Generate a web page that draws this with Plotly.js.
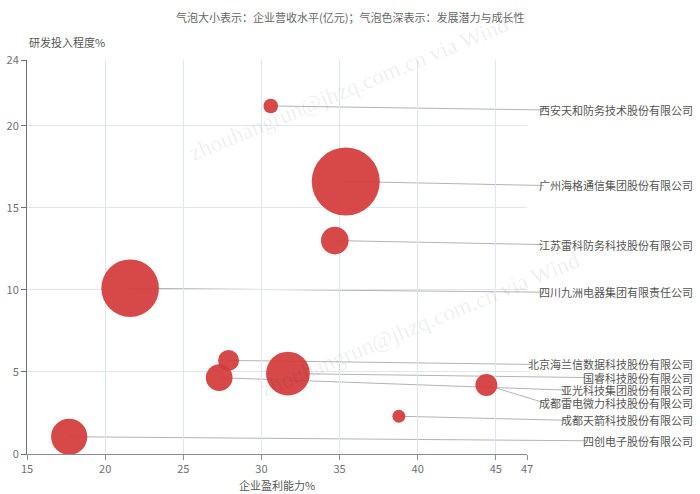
<!DOCTYPE html>
<html>
<head>
<meta charset="utf-8">
<script src="https://cdn.plot.ly/plotly-3.0.1.min.js"></script>
<style>html,body{margin:0;padding:0;background:#fff;}#chart{width:700px;height:494px;}</style>
</head>
<body>
<div id="chart"></div>
<script>
// ---- data ----
const companies = [
  "西安天和防务技术股份有限公司",
  "广州海格通信集团股份有限公司",
  "江苏雷科防务科技股份有限公司",
  "四川九洲电器集团有限责任公司",
  "北京海兰信数据科技股份有限公司",
  "国睿科技股份有限公司",
  "亚光科技集团股份有限公司",
  "成都雷电微力科技股份有限公司",
  "成都天箭科技股份有限公司",
  "四创电子股份有限公司"
];
const profitability = [30.6, 35.4, 34.7, 21.6, 27.9, 31.7, 27.3, 44.4, 38.8, 17.7]; // 企业盈利能力%
const rdIntensity   = [21.2, 16.6, 13.0, 10.1, 5.7, 4.9, 4.65, 4.2, 2.3, 1.05];   // 研发投入程度%
const revenue       = [12.2, 56.7, 23.0, 48.0, 17.5, 36.5, 22.3, 18.3, 10.8, 30.2]; // 企业营收水平(亿元)
const xTicks = [15, 20, 25, 30, 35, 40, 45, 47];
const yTicks = [0, 5, 10, 15, 20, 24];
const titleText = "气泡大小表示：企业营收水平(亿元)；气泡色深表示：发展潜力与成长性";
const xTitle = "企业盈利能力%";
const yTitle = "研发投入程度%";
const watermark = "zhouhangrun@jhzq.com.cn via Wind";

// ---- layout geometry ----
const W = 700, H = 494;
const M = {l: 27, r: 173, t: 60, b: 40};
const PW = W - M.l - M.r, PH = H - M.t - M.b;
const xR = [15, 47], yR = [0, 24];
const FONT = '"Noto Sans CJK SC", "Noto Sans", sans-serif';

const toPx = (x) => M.l + (x - xR[0]) / (xR[1] - xR[0]) * PW;
const toPy = (y) => M.t + (yR[1] - y) / (yR[1] - yR[0]) * PH;
const pxToPaperX = (px) => (px - M.l) / PW;
const pyToPaperY = (py) => (H - M.b - py) / PH;

// label placement (shift down to avoid overlaps)
const labelRight = 695;
const order = companies.map((_, i) => i).sort((a, b) => rdIntensity[b] - rdIntensity[a]);
const labelPy = new Array(companies.length);
let last = -Infinity;
const gap = 12.5;
order.forEach(i => {
  let p = toPy(rdIntensity[i]) + 4;
  if (p < last + gap) p = last + gap;
  labelPy[i] = p;
  last = p;
});

const shapes = [];
const annotations = [];
companies.forEach((name, i) => {
  const labelLeft = labelRight - name.length * 10.75 - 1;
  shapes.push({
    type: 'line', xref: 'paper', yref: 'paper', layer: 'below',
    x0: pxToPaperX(toPx(profitability[i])), y0: pyToPaperY(toPy(rdIntensity[i])),
    x1: pxToPaperX(labelLeft), y1: pyToPaperY(labelPy[i]),
    line: {color: '#b4b4b4', width: 1}
  });
  annotations.push({
    xref: 'paper', yref: 'paper', x: pxToPaperX(labelRight), y: pyToPaperY(labelPy[i]),
    xanchor: 'right', yanchor: 'middle', showarrow: false, text: name,
    font: {family: FONT, size: 11, color: '#555'}
  });
});

// title & axis titles
annotations.push({xref: 'paper', yref: 'paper', x: pxToPaperX(350), y: pyToPaperY(17), xanchor: 'center', yanchor: 'middle',
  showarrow: false, text: titleText, font: {family: FONT, size: 11, color: '#666'}});
annotations.push({xref: 'paper', yref: 'paper', x: pxToPaperX(27), y: pyToPaperY(42), xanchor: 'left', yanchor: 'middle',
  showarrow: false, text: yTitle, font: {family: FONT, size: 11, color: '#555'}});
annotations.push({xref: 'paper', yref: 'paper', x: pxToPaperX(277), y: pyToPaperY(485), xanchor: 'center', yanchor: 'middle',
  showarrow: false, text: xTitle, font: {family: FONT, size: 11, color: '#555'}});

// watermarks
[[349, 88], [420, 324]].forEach(([cx, cy]) => {
  annotations.push({xref: 'paper', yref: 'paper', x: pxToPaperX(cx), y: pyToPaperY(cy), xanchor: 'center', yanchor: 'middle',
    showarrow: false, text: watermark, textangle: -22.5,
    font: {family: '"Liberation Serif", serif', size: 23, color: 'rgba(0,0,0,0.08)'}});
});

const trace = {
  type: 'scatter', mode: 'markers',
  x: profitability, y: rdIntensity, text: companies,
  marker: {size: revenue, sizemode: 'diameter', sizeref: 1 / 1.2, opacity: 1,
    color: 'rgba(212,58,58,0.92)', line: {width: 0}},
  cliponaxis: false, hoverinfo: 'text'
};

const axisCommon = {
  showline: true, ticks: 'outside', ticklen: 5, tickwidth: 1,
  showgrid: true, gridcolor: '#e0e6f1', gridwidth: 1, zeroline: false,
  tickfont: {family: FONT, size: 11, color: '#6e7079'}, fixedrange: true
};

const layout = {
  width: W, height: H, margin: M,
  paper_bgcolor: '#fff', plot_bgcolor: 'rgba(0,0,0,0)',
  showlegend: false,
  xaxis: Object.assign({}, axisCommon, {range: xR, tickmode: 'array', tickvals: xTicks,
    linecolor: '#8a8d96', tickcolor: '#8a8d96'}),
  yaxis: Object.assign({}, axisCommon, {range: yR, tickmode: 'array', tickvals: yTicks,
    linecolor: '#6e7079', tickcolor: '#6e7079'}),
  shapes: shapes, annotations: annotations
};

Plotly.newPlot('chart', [trace], layout, {displayModeBar: false, staticPlot: true});
</script>
</body>
</html>
